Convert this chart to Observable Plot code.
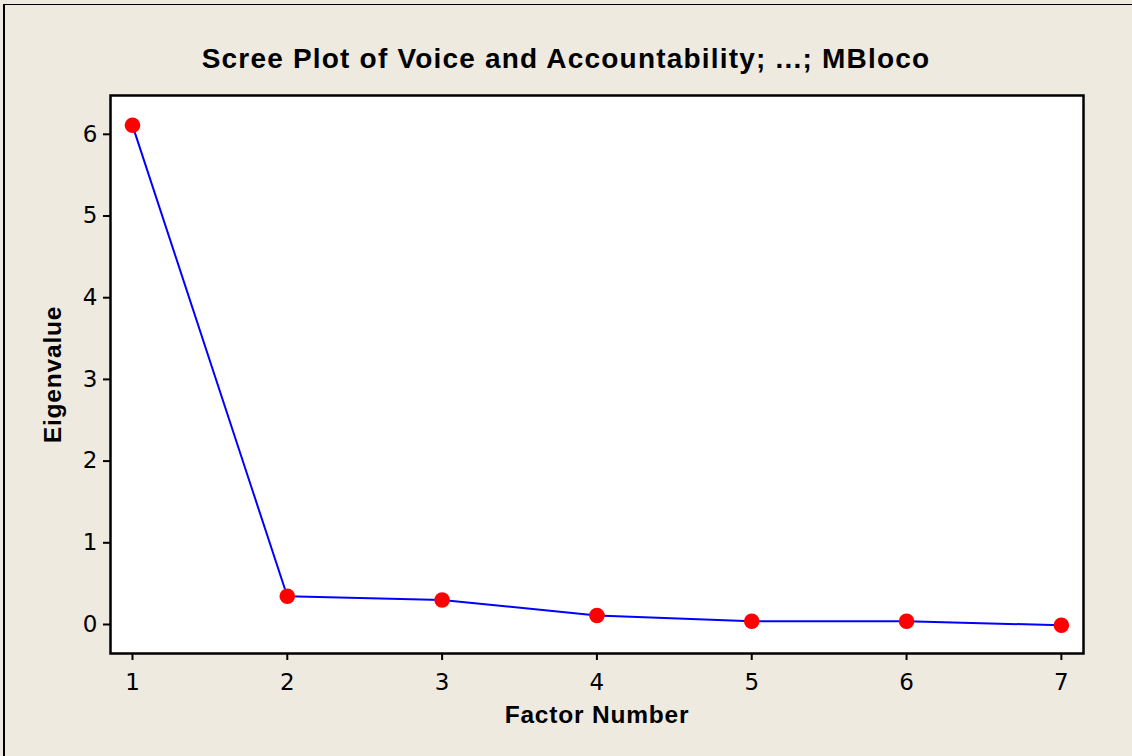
<!DOCTYPE html>
<html>
<head>
<meta charset="utf-8">
<script src="https://cdn.jsdelivr.net/npm/d3@7"></script>
<script src="https://cdn.jsdelivr.net/npm/@observablehq/plot@0.6"></script>
<style>
  html, body { margin: 0; padding: 0; }
  body { width: 1132px; height: 756px; background: #eeeae0; position: relative; overflow: hidden; }
  #border { position: absolute; left: 3px; top: 4px; width: 1140px; height: 800px; border-left: 2px solid #000; border-top: 1.5px solid #000; box-sizing: border-box; pointer-events: none; }
  #title { position: absolute; left: 0; width: 1132px; top: 41px; text-align: center; font-family: "Liberation Sans", Arial, sans-serif; font-weight: bold; font-size: 28px; letter-spacing: 1.2px; color: #000; line-height: 36px; }
  #chart { position: absolute; left: 0; top: 0; }
  .axis-title { letter-spacing: 0.8px; }
</style>
</head>
<body>
<div id="chart"></div>
<div id="border"></div>
<div id="title">Scree Plot of Voice and Accountability; ...; MBloco</div>
<script>
const factorNumbers = [1, 2, 3, 4, 5, 6, 7];
const eigenvalues = [6.11, 0.345, 0.30, 0.11, 0.04, 0.04, -0.01];
const xTicks = [1, 2, 3, 4, 5, 6, 7];
const yTicks = [0, 1, 2, 3, 4, 5, 6];
const xLabel = "Factor Number";
const yLabel = "Eigenvalue";

const data = factorNumbers.map((f, i) => ({factor: f, eigen: eigenvalues[i]}));

const plot = Plot.plot({
  width: 1132,
  height: 756,
  marginLeft: 110,
  marginRight: 49,
  marginTop: 95,
  marginBottom: 103,
  style: { background: "transparent", fontFamily: "'DejaVu Sans', sans-serif", fontSize: "23px", color: "#000" },
  x: { domain: [0.858, 7.143], ticks: xTicks, label: null },
  y: { domain: [-0.355, 6.475], ticks: yTicks, label: null },
  marks: [
    Plot.frame({ fill: "white", stroke: null }),
    Plot.axisX({ ticks: xTicks, tickSize: 7, tickPadding: 13, tickFormat: d3.format("d"), strokeWidth: 2, label: null, fontSize: 23 }),
    Plot.axisY({ ticks: yTicks, tickSize: 7, tickPadding: 6, tickFormat: d3.format("d"), strokeWidth: 2, label: null, fontSize: 23 }),
    Plot.line(data, { x: "factor", y: "eigen", stroke: "#0000ff", strokeWidth: 2 }),
    Plot.dot(data, { x: "factor", y: "eigen", r: 7.8, fill: "#ff0000", stroke: null }),
    Plot.frame({ stroke: "#000", strokeWidth: 2.5 }),
    Plot.text([xLabel], { frameAnchor: "bottom", dy: 62, lineAnchor: "middle", textAnchor: "middle", text: d => d, fontWeight: "bold", fontSize: 24.5, fontFamily: "'Liberation Sans', Arial, sans-serif", fill: "#000", className: "axis-title" }),
    Plot.text([yLabel], { frameAnchor: "left", dx: -57, rotate: -90, lineAnchor: "middle", textAnchor: "middle", text: d => d, fontWeight: "bold", fontSize: 24.5, fontFamily: "'Liberation Sans', Arial, sans-serif", fill: "#000", className: "axis-title" })
  ]
});
document.getElementById("chart").appendChild(plot);
</script>
</body>
</html>
